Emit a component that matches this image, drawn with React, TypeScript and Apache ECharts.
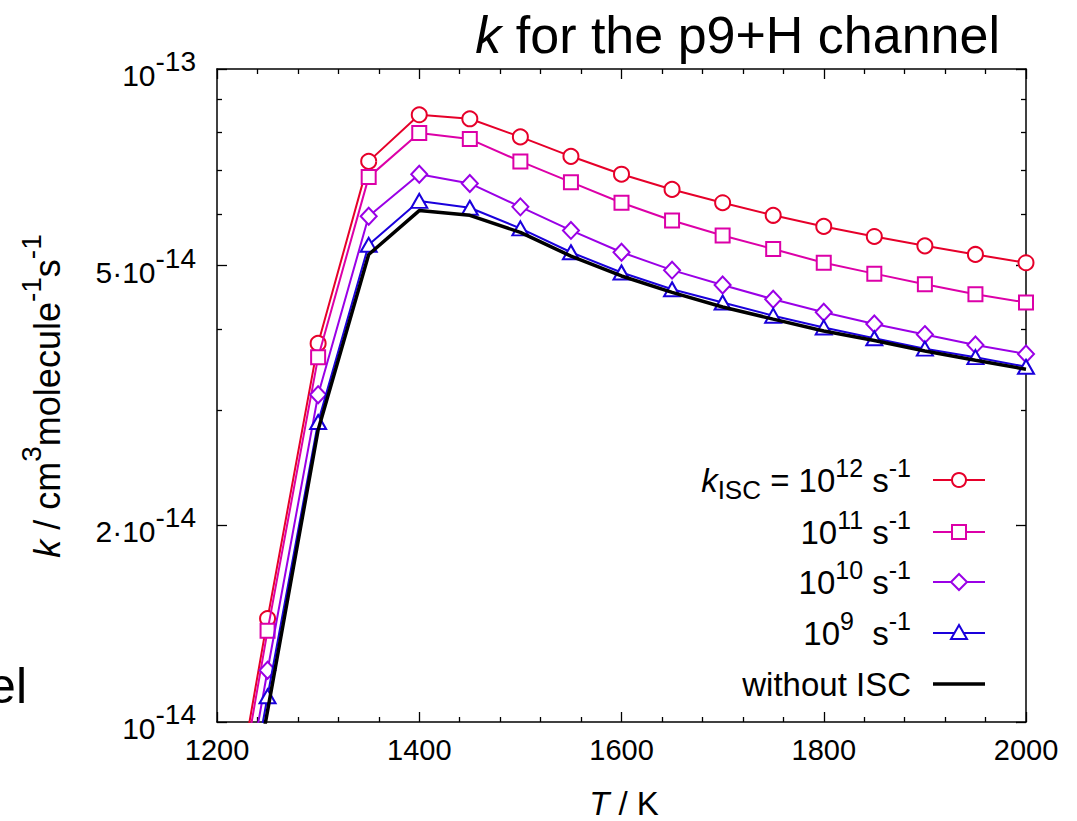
import React, { useEffect, useRef } from "react";
import * as echarts from "echarts";

// ---------------- data ----------------
const temperatures = [1200, 1250, 1300, 1350, 1400, 1450, 1500, 1550, 1600, 1650, 1700, 1750, 1800, 1850, 1900, 1950, 2000];
const kIsc12 = [5.2e-15, 1.44e-14, 3.80e-14, 7.22e-14, 8.51e-14, 8.39e-14, 7.87e-14, 7.35e-14, 6.90e-14, 6.54e-14, 6.24e-14, 5.97e-14, 5.74e-14, 5.54e-14, 5.36e-14, 5.20e-14, 5.05e-14];
const kIsc11 = [4.96e-15, 1.38e-14, 3.62e-14, 6.83e-14, 7.98e-14, 7.81e-14, 7.22e-14, 6.71e-14, 6.24e-14, 5.86e-14, 5.56e-14, 5.30e-14, 5.05e-14, 4.86e-14, 4.68e-14, 4.52e-14, 4.39e-14];
const kIsc10 = [4.4e-15, 1.20e-14, 3.17e-14, 5.95e-14, 6.90e-14, 6.68e-14, 6.15e-14, 5.66e-14, 5.24e-14, 4.92e-14, 4.67e-14, 4.44e-14, 4.24e-14, 4.07e-14, 3.92e-14, 3.78e-14, 3.66e-14];
const kIsc9 = [4.1e-15, 1.095e-14, 2.88e-14, 5.38e-14, 6.28e-14, 6.13e-14, 5.70e-14, 5.24e-14, 4.88e-14, 4.60e-14, 4.39e-14, 4.19e-14, 4.02e-14, 3.87e-14, 3.73e-14, 3.62e-14, 3.50e-14];
const kNoIsc = [3.9e-15, 1.04e-14, 2.80e-14, 5.20e-14, 6.07e-14, 5.97e-14, 5.62e-14, 5.17e-14, 4.82e-14, 4.55e-14, 4.32e-14, 4.14e-14, 3.97e-14, 3.84e-14, 3.70e-14, 3.58e-14, 3.47e-14];

const yMajorTicks = [1e-14, 2e-14, 5e-14, 1e-13];
const yMinorTicks = [3e-14, 4e-14, 6e-14, 7e-14, 8e-14, 9e-14];
const yTickLabels = ["{b|10}{s|-14}", "{b|2·10}{s|-14}", "{b|5·10}{s|-14}", "{b|10}{s|-13}"];

const legendLabels = [
  "{i|k}{sub|ISC}{b| = 10}{s|12}{b| s}{s|-1}",
  "{b|10}{s|11}{b| s}{s|-1}",
  "{b|10}{s|10}{b| s}{s|-1}",
  "{b|10}{s|9}{b|  s}{s|-1}",
  "{b|without ISC}",
];
const seriesNames = ["kISC=1e12", "kISC=1e11", "kISC=1e10", "kISC=1e9", "without ISC"];
const colors = ["#e6002a", "#dc00a8", "#9a00e6", "#1a00dc", "#000000"];

const FONT = "'Liberation Sans', Arial, Helvetica, sans-serif";

export default function App() {
  const ref = useRef<HTMLDivElement>(null);
  useEffect(() => {
    if (!ref.current) return;
    const chart = echarts.init(ref.current, null, { renderer: "svg" });

    const toPairs = (vals: number[]) => temperatures.map((t, i) => [t, vals[i]]);
    const lineSeries = (idx: number, vals: number[], symbol: string, size: any, width = 2) => ({
      type: "line",
      name: seriesNames[idx],
      data: toPairs(vals),
      xAxisIndex: 0,
      yAxisIndex: 0,
      symbol,
      symbolSize: size,
      showSymbol: symbol !== "none",
      showAllSymbol: true,
      clip: true,
      lineStyle: { color: colors[idx], width },
      itemStyle: { color: colors[idx], borderColor: colors[idx], borderWidth: 2 },
      emphasis: { disabled: true },
      silent: true,
      z: 2 + idx,
    });

    const axisLine = { show: true, onZero: false, lineStyle: { color: "#000", width: 1.5 } };
    const tickStyle = { color: "#000", width: 1.3 };

    const xAxisBase = {
      type: "value",
      min: 1200,
      max: 2000,
      interval: 200,
      axisLine,
      axisTick: { show: true, inside: true, length: 10, lineStyle: tickStyle },
      minorTick: { show: true, splitNumber: 5, length: 5, lineStyle: tickStyle },
      splitLine: { show: false },
      minorSplitLine: { show: false },
    };

    const yAxisBase = {
      type: "log",
      logBase: 10,
      min: 1e-14,
      max: 1e-13,
      splitLine: { show: false },
      minorTick: { show: false },
      minorSplitLine: { show: false },
    };

    const yRich = {
      b: { fontSize: 30, fontFamily: FONT, color: "#000", verticalAlign: "bottom" },
      s: { fontSize: 28, fontFamily: FONT, color: "#000", verticalAlign: "bottom", padding: [0, 0, 15, 0] },
    };

    const yFormatter = (v: number) => {
      let best = 0;
      let bestD = Infinity;
      yMajorTicks.forEach((t, i) => {
        const d = Math.abs(Math.log10(v) - Math.log10(t));
        if (d < bestD) { bestD = d; best = i; }
      });
      return yTickLabels[best];
    };

    const legendRich = {
      b: { fontSize: 33, fontFamily: FONT, color: "#000", verticalAlign: "bottom", padding: [0, 0, 6, 0] },
      i: { fontSize: 33, fontFamily: FONT, fontStyle: "italic", color: "#000", verticalAlign: "bottom", padding: [0, 0, 6, 0] },
      sub: { fontSize: 26, fontFamily: FONT, color: "#000", verticalAlign: "bottom", padding: [0, 0, 0, 0] },
      s: { fontSize: 25, fontFamily: FONT, color: "#000", verticalAlign: "bottom", padding: [0, 0, 22, 0] },
    };

    const rowY = [480, 532, 582, 633, 684];
    const lx1 = 933, lx2 = 985, mx = 959;
    const legendGraphics: any[] = [];
    rowY.forEach((y, i) => {
      legendGraphics.push({
        type: "text",
        x: 911,
        y: y + 22.5,
        silent: true,
        style: {
          text: legendLabels[i],
          rich: legendRich,
          align: "right",
          textAlign: "right",
          verticalAlign: "bottom",
          textVerticalAlign: "bottom",
          fontFamily: FONT,
          fontSize: 33,
          fill: "#000",
        },
      });
      legendGraphics.push({
        type: "line",
        silent: true,
        shape: { x1: lx1, y1: y, x2: lx2, y2: y },
        style: { stroke: colors[i], lineWidth: i === 4 ? 3.5 : 2 },
      });
    });
    const mStyle = (c: string) => ({ fill: "#fff", stroke: c, lineWidth: 2 });
    legendGraphics.push({ type: "circle", silent: true, shape: { cx: mx, cy: rowY[0], r: 7 }, style: mStyle(colors[0]) });
    legendGraphics.push({ type: "rect", silent: true, shape: { x: mx - 7, y: rowY[1] - 7, width: 14, height: 14 }, style: mStyle(colors[1]) });
    legendGraphics.push({ type: "polygon", silent: true, shape: { points: [[mx, rowY[2] - 8], [mx + 8, rowY[2]], [mx, rowY[2] + 8], [mx - 8, rowY[2]]] }, style: mStyle(colors[2]) });
    legendGraphics.push({ type: "polygon", silent: true, shape: { points: [[mx, rowY[3] - 8], [mx + 8, rowY[3] + 6], [mx - 8, rowY[3] + 6]] }, style: mStyle(colors[3]) });

    const option: any = {
      animation: false,
      backgroundColor: "#fff",
      grid: { left: 217, right: 51, top: 69, bottom: 99, containLabel: false },
      xAxis: [
        {
          ...xAxisBase,
          position: "bottom",
          axisLabel: {
            show: true,
            fontSize: 29,
            color: "#000",
            fontFamily: FONT,
            margin: 13,
            formatter: (v: number) => String(v),
          },
        },
        {
          ...xAxisBase,
          position: "top",
          axisLabel: { show: false },
        },
      ],
      yAxis: [
        {
          ...yAxisBase,
          position: "left",
          axisLine,
          axisTick: { show: true, inside: true, length: 10, lineStyle: tickStyle, customValues: yMajorTicks },
          axisLabel: {
            show: true,
            customValues: yMajorTicks,
            formatter: yFormatter,
            rich: yRich,
            margin: 21,
            color: "#000",
            fontSize: 30,
            fontFamily: FONT,
          },
        },
        {
          ...yAxisBase,
          position: "left",
          offset: 0,
          axisLine: { show: false },
          axisTick: { show: true, inside: true, length: 5, lineStyle: tickStyle, customValues: yMinorTicks },
          axisLabel: { show: false },
        },
        {
          ...yAxisBase,
          position: "right",
          axisLine,
          axisTick: { show: true, inside: true, length: 10, lineStyle: tickStyle, customValues: yMajorTicks },
          axisLabel: { show: false },
        },
        {
          ...yAxisBase,
          position: "right",
          offset: 0,
          axisLine: { show: false },
          axisTick: { show: true, inside: true, length: 5, lineStyle: tickStyle, customValues: yMinorTicks },
          axisLabel: { show: false },
        },
      ],
      series: [
        lineSeries(0, kIsc12, "emptyCircle", 15),
        lineSeries(1, kIsc11, "emptyRect", 14),
        lineSeries(2, kIsc10, "emptyDiamond", [16, 17]),
        lineSeries(3, kIsc9, "emptyTriangle", [16, 14]),
        lineSeries(4, kNoIsc, "none", 0, 3.5),
      ],
      graphic: [
        {
          type: "text",
          x: 1000,
          y: 35,
          silent: true,
          style: {
            text: "{i|k}{b| for the p9+H channel}",
            rich: {
              i: { fontSize: 52, fontFamily: FONT, fontStyle: "italic", color: "#000" },
              b: { fontSize: 52, fontFamily: FONT, color: "#000" },
            },
            align: "right",
            textAlign: "right",
            verticalAlign: "middle",
            textVerticalAlign: "middle",
            fontSize: 52,
            fontFamily: FONT,
            fill: "#000",
          },
        },
        {
          type: "text",
          x: 27,
          y: 686,
          silent: true,
          style: {
            text: "el",
            fontSize: 50,
            fontFamily: FONT,
            fill: "#000",
            align: "right",
            textAlign: "right",
            verticalAlign: "middle",
            textVerticalAlign: "middle",
          },
        },
        {
          type: "text",
          x: 41,
          y: 396,
          rotation: Math.PI / 2,
          silent: true,
          style: {
            text: "{i|k}{b| / cm}{s|3}{b|molecule}{s|-1}{b|s}{s|-1}",
            rich: {
              i: { fontSize: 36, fontFamily: FONT, fontStyle: "italic", color: "#000", verticalAlign: "bottom" },
              b: { fontSize: 36, fontFamily: FONT, color: "#000", verticalAlign: "bottom" },
              s: { fontSize: 28, fontFamily: FONT, color: "#000", verticalAlign: "bottom", padding: [0, 0, 20, 0] },
            },
            align: "center",
            textAlign: "center",
            verticalAlign: "middle",
            textVerticalAlign: "middle",
            fontSize: 36,
            fontFamily: FONT,
            fill: "#000",
          },
        },
        {
          type: "text",
          x: 624,
          y: 803,
          silent: true,
          style: {
            text: "{i|T}{b| / K}",
            rich: {
              i: { fontSize: 33, fontFamily: FONT, fontStyle: "italic", color: "#000" },
              b: { fontSize: 33, fontFamily: FONT, color: "#000" },
            },
            align: "center",
            textAlign: "center",
            verticalAlign: "middle",
            textVerticalAlign: "middle",
            fontSize: 33,
            fontFamily: FONT,
            fill: "#000",
          },
        },
        ...legendGraphics,
      ],
    };

    chart.setOption(option);
    return () => chart.dispose();
  }, []);

  return (
    <div
      ref={ref}
      style={{ position: "fixed", left: 0, top: 0, width: 1077, height: 821, background: "#fff" }}
    />
  );
}
